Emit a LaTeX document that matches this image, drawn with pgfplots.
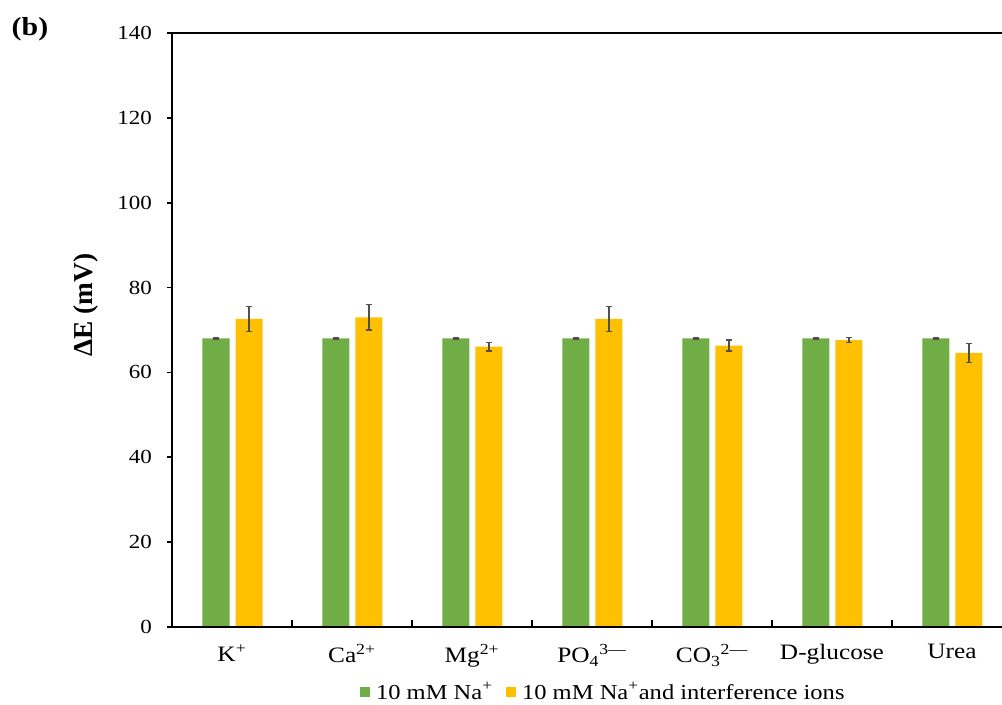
\documentclass[border=0pt]{standalone}
\usepackage{fontspec}
\setmainfont{Liberation Serif}
\usepackage{graphicx}
\usepackage{pgfplots}
\usepackage{pgfplotstable}
\pgfplotsset{compat=1.18}
\definecolor{barGreen}{HTML}{70AD47}
\definecolor{barYellow}{HTML}{FFC000}
\definecolor{errGray}{HTML}{505050}
\newcommand{\hs}[1]{\scalebox{1.15}[1]{#1}}

\pgfplotstableread{
x green gerr yellow yerr
0 68 0.1 72.6 3.0
1 68 0.1 73.0 3.0
2 68 0.1 66.1 1.0
3 68 0.1 72.6 3.0
4 68 0.1 66.3 1.3
5 68 0.1 67.6 0.6
6 68 0.1 64.6 2.2
}\datatable

\begin{document}
\begin{tikzpicture}
\begin{axis}[
  at={(129pt,57.75pt)}, anchor=south west,
  scale only axis, width=622.5pt, height=445.5pt,
  xmin=-0.5, xmax=6.417, ymin=0, ymax=140,
  clip=false,
  ybar, bar width=20.25pt,
  axis line style={draw=none},
  /pgf/number format/assume math mode=true,
  ytick={0,20,...,140},
  ytick pos=left,
  tick align=inside,
  major tick length=4pt,
  ytick style={black, line width=1.2pt, xshift=-4pt},
  yticklabel={\hs{\pgfmathprintnumber{\tick}}},
  yticklabel style={font=\fontsize{15}{18}\selectfont, xshift=-11.5pt},
  xtick={0,...,6},
  xtick pos=bottom,
  xtick style={draw=none},
  xticklabels={\hs{K\textsuperscript{+}}, \hs{Ca\textsuperscript{2+}}, \hs{Mg\textsuperscript{2+}}, \hs{PO\textsubscript{4}\textsuperscript{3\textemdash}}, \hs{CO\textsubscript{3}\textsuperscript{2\textemdash}}, \hs{D-glucose}, \hs{Urea}},
  xticklabel style={font=\fontsize{16.5}{20}\selectfont, yshift=-9.5pt},
  ylabel={\textbf{ΔE (mV)}},
  ylabel style={font=\fontsize{20.5}{24}\selectfont, at={(axis description cs:-0.1036,0.542)}, anchor=center},
  legend style={at={(axis description cs:0.52,-0.109)}, anchor=center, legend columns=2, draw=none, fill=none,
    font=\fontsize{16}{19}\selectfont, /tikz/every even column/.append style={column sep=8pt}},
  legend image code/.code={\fill[#1] (0pt,-3.75pt) rectangle (7.5pt,3.75pt); \path (0pt,0pt) -- (10pt,0pt);},
]
\addplot[bar shift=-12pt, fill=barGreen, draw=none,
  error bars/.cd, y dir=both, y explicit,
  error bar style={errGray, line width=1.1pt},
  error mark options={rotate=90, mark size=2.5pt, errGray, line width=1.1pt}]
  table[x=x, y=green, y error=gerr]{\datatable};
\addlegendentry{\hs{10 mM Na\textsuperscript{+}}}
\addplot[bar shift=12.75pt, fill=barYellow, draw=none,
  error bars/.cd, y dir=both, y explicit,
  error bar style={errGray, line width=1.1pt},
  error mark options={rotate=90, mark size=2.5pt, errGray, line width=1.1pt}]
  table[x=x, y=yellow, y error=yerr]{\datatable};
\addlegendentry{\hs{10 mM Na\textsuperscript{+}and interference ions}}
\pgfplotsinvokeforeach{0.5,1.5,2.5,3.5,4.5,5.5}{
  \draw[black, line width=1.2pt] (axis cs:#1,0) -- ++(0pt,5pt);
}
\draw[black, line width=1.8pt] (rel axis cs:0,1) -- (rel axis cs:1,1);
\draw[black, line width=1.8pt] (rel axis cs:0,1) -- (rel axis cs:0,0) -- (rel axis cs:1,0);
\end{axis}
\node[font=\fontsize{19.5}{22}\selectfont\bfseries] at (22.5pt,506pt) {\hs{(b)}};
\pgfresetboundingbox
\path (0pt,0pt) rectangle (751.5pt,528pt);
\end{tikzpicture}
\end{document}
